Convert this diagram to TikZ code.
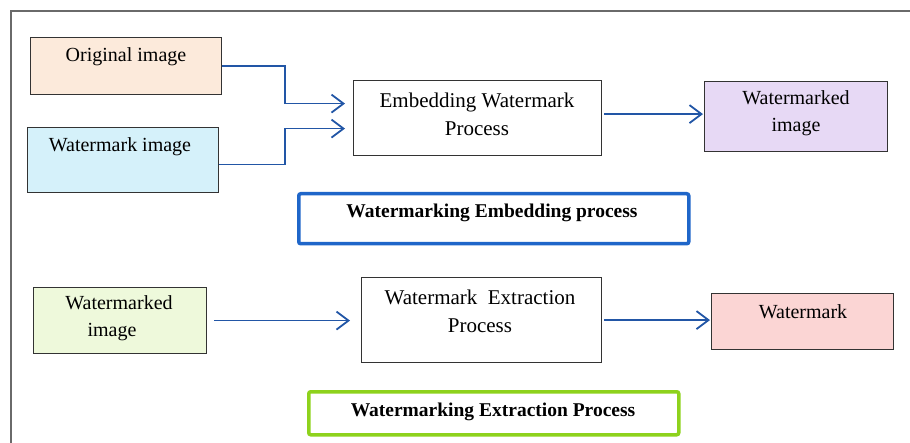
\documentclass[tikz,border=0pt]{standalone}
\usepackage{fontspec}
\IfFontExistsTF{LiberationSerif-Regular.ttf}
  {\setmainfont{LiberationSerif}[Extension=.ttf, UprightFont=*-Regular, BoldFont=*-Bold]}
  {\setmainfont{Liberation Serif}}
\usetikzlibrary{arrows.meta}

\definecolor{peach}{HTML}{FCEADB}
\definecolor{iceblue}{HTML}{D5F1FA}
\definecolor{lavender}{HTML}{E7D9F5}
\definecolor{mint}{HTML}{EEF9DB}
\definecolor{rose}{HTML}{FBD5D4}
\definecolor{flowblue}{HTML}{2256A6}
\definecolor{titleblue}{HTML}{1F66C9}
\definecolor{titlegreen}{HTML}{8ED21C}
\definecolor{framegray}{HTML}{6A6A6A}

\begin{document}
\begin{tikzpicture}[x=1pt,y=-1pt,
  box/.style={draw=black!80, line width=1.2pt, inner sep=0pt, anchor=north west},
  titlebox/.style={line width=3.5pt, rounded corners=2pt, inner sep=0pt, anchor=north west},
  lbl/.style={font=\fontsize{20}{27}\selectfont, align=center, inner sep=0pt},
  plbl/.style={font=\fontsize{21}{28}\selectfont, align=center, inner sep=0pt},
  ttl/.style={font=\fontsize{19.5}{24}\selectfont\bfseries, inner sep=0pt},
  flow/.style={draw=flowblue, line width=1.8pt,
    -{Straight Barb[length=12pt,width=18pt,line width=1.8pt]}},
  frame/.style={draw=framegray, line width=1.5pt}
]
\useasboundingbox (0,0) rectangle (910,443);

% outer frame
\draw[frame] (11,445) -- (11,11) -- (912,11);

% embedding stage
\node[box, fill=peach, minimum width=191pt, minimum height=57pt] (orig) at (30,37) {};
\node[lbl] (origt) at (126,57) {Original image};

\node[box, fill=iceblue, minimum width=191pt, minimum height=65pt] (wimg) at (27,127) {};
\node[lbl] (wimgt) at (120,147) {Watermark image};

\node[box, fill=white, minimum width=248pt, minimum height=75pt] (emb) at (353,80) {};
\node[plbl] (embt) at (477,114) {Embedding Watermark\\Process};

\node[box, fill=lavender, minimum width=183pt, minimum height=70pt] (wmd) at (704,81) {};
\node[lbl] (wmdt) at (796,113) {Watermarked\\image};

\node[titlebox, draw=titleblue, minimum width=390pt, minimum height=50pt] (t1) at (297,192) {};
\node[ttl] (t1t) at (492,213) {Watermarking Embedding process};

% extraction stage
\node[box, fill=mint, minimum width=173pt, minimum height=66pt] (bwm) at (33,287) {};
\node[lbl] (bwmt) at (119,318) {Watermarked\\image\hspace*{14pt}};

\node[box, fill=white, minimum width=240pt, minimum height=85pt] (ext) at (361,277) {};
\node[plbl] (extt) at (480,311) {Watermark~ Extraction\\Process};

\node[box, fill=rose, minimum width=182pt, minimum height=56pt] (wk) at (711,293) {};
\node[lbl] (wkt) at (803,312) {Watermark};

\node[titlebox, draw=titlegreen, minimum width=370pt, minimum height=43pt] (t2) at (307,390) {};
\node[ttl] (t2t) at (493,412) {Watermarking Extraction Process};

% connectors
\draw[flow, shorten >=8pt] (orig.east) -- ++(63,0) |- ([yshift=14.5pt]emb.west);
\draw[flow, shorten >=8pt] ([yshift=-4.5pt]wimg.east) -- ++(66,0) |- ([yshift=-10.5pt]emb.west);
\coordinate (e1) at ([yshift=4pt]emb.east);
\draw[flow, shorten <=2pt, shorten >=1pt] (e1) -- (e1 -| wmd.west);
\draw[flow, shorten <=7pt, shorten >=11pt] (bwm.east) -- (bwm.east -| ext.west);
\draw[flow, shorten <=2pt, shorten >=1pt] (ext.east) -- (ext.east -| wk.west);
\end{tikzpicture}
\end{document}
